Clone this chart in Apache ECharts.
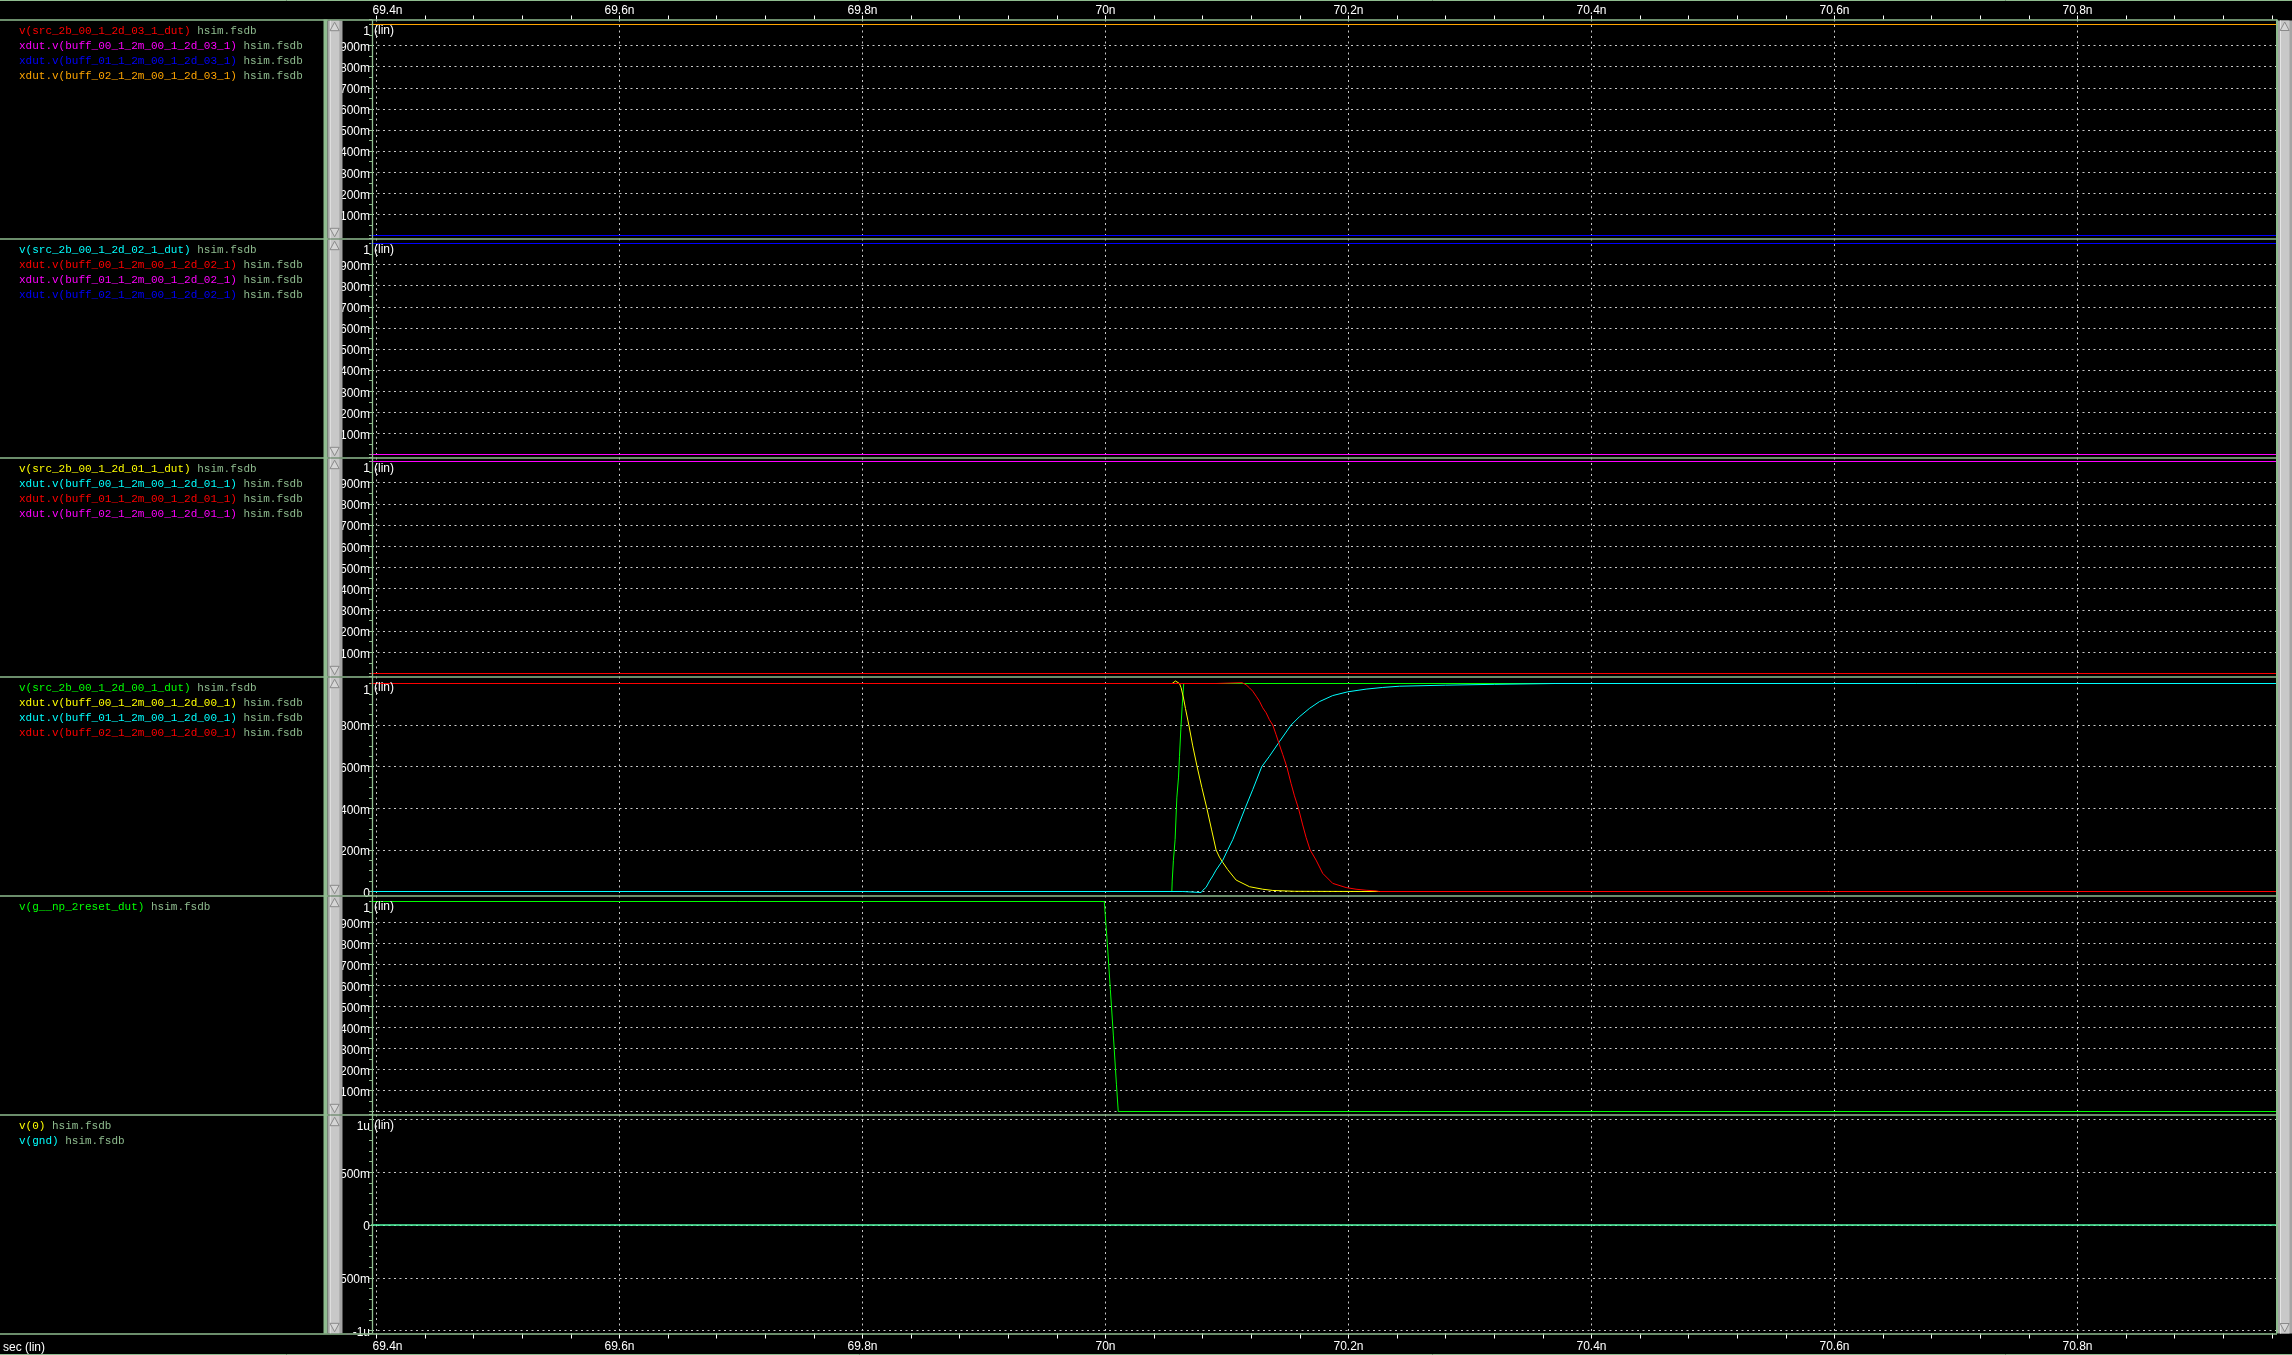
<!DOCTYPE html>
<html><head><meta charset="utf-8">
<script src="https://cdn.jsdelivr.net/npm/echarts@6/dist/echarts.min.js"></script>
<style>html,body{margin:0;padding:0;background:#000;overflow:hidden}#c{width:2292px;height:1355px}</style>
</head><body><div id="c"></div><script>
// ---------------- DATA ----------------
const timeSpan = [69.39, 70.97]; // ns, whole simulated window (flat signals)
const xTickValues = [69.40,69.44,69.48,69.52,69.56,69.60,69.64,69.68,69.72,69.76,69.80,69.84,69.88,69.92,69.96,70.00,70.04,70.08,70.12,70.16,70.20,70.24,70.28,70.32,70.36,70.40,70.44,70.48,70.52,70.56,70.60,70.64,70.68,70.72,70.76,70.80,70.84,70.88,70.92,70.96];
const xLabelValues = [69.4, 69.6, 69.8, 70.0, 70.2, 70.4, 70.6, 70.8];
const p6TickLabels = ['-1u', '-500m', '0', '500m', '1u'];

const p1Names = ['v(src_2b_00_1_2d_03_1_dut)','xdut.v(buff_00_1_2m_00_1_2d_03_1)','xdut.v(buff_01_1_2m_00_1_2d_03_1)','xdut.v(buff_02_1_2m_00_1_2d_03_1)'];
const p1Levels = [0, 1, 0, 1];
const p2Names = ['v(src_2b_00_1_2d_02_1_dut)','xdut.v(buff_00_1_2m_00_1_2d_02_1)','xdut.v(buff_01_1_2m_00_1_2d_02_1)','xdut.v(buff_02_1_2m_00_1_2d_02_1)'];
const p2Levels = [0, 1, 0, 1];
const p3Names = ['v(src_2b_00_1_2d_01_1_dut)','xdut.v(buff_00_1_2m_00_1_2d_01_1)','xdut.v(buff_01_1_2m_00_1_2d_01_1)','xdut.v(buff_02_1_2m_00_1_2d_01_1)'];
const p3Levels = [0, 1, 0, 1];
const p4Names = ['v(src_2b_00_1_2d_00_1_dut)','xdut.v(buff_00_1_2m_00_1_2d_00_1)','xdut.v(buff_01_1_2m_00_1_2d_00_1)','xdut.v(buff_02_1_2m_00_1_2d_00_1)'];
const p4SrcT = [69.39, 70.0546, 70.0549, 70.0559, 70.0573, 70.0587, 70.0601, 70.0609, 70.0620, 70.0631, 70.0644, 70.97];
const p4SrcV = [0, 0, 0.05, 0.15, 0.25, 0.45, 0.55, 0.65, 0.78, 0.89, 1.0, 1.0];
const p4Buf00T = [69.39, 70.0548, 70.0559, 70.0576, 70.0592, 70.0609, 70.0622, 70.0642, 70.0658, 70.0686, 70.0718, 70.0754, 70.0793, 70.0834, 70.0872, 70.0910, 70.0938, 70.0965, 70.1006, 70.1075, 70.1185, 70.1294, 70.1377, 70.1555, 70.2227, 70.97];
const p4Buf00V = [1, 1, 1.008, 1.012, 1.010, 1.0, 0.98, 0.93, 0.88, 0.80, 0.70, 0.60, 0.50, 0.40, 0.30, 0.20, 0.165, 0.14, 0.105, 0.055, 0.023, 0.011, 0.005, 0.001, 0, 0];
const p4Buf01T = [69.39, 70.0636, 70.0639, 70.0787, 70.0801, 70.0828, 70.0856, 70.0883, 70.0910, 70.0965, 70.1006, 70.1048, 70.1102, 70.1149, 70.1212, 70.1286, 70.1349, 70.1431, 70.1527, 70.1596, 70.1678, 70.1761, 70.1870, 70.1994, 70.2145, 70.2282, 70.2419, 70.28, 70.32, 70.37, 70.97];
const p4Buf01V = [0, 0, -0.005, -0.005, 0.006, 0.02, 0.05, 0.075, 0.103, 0.15, 0.20, 0.25, 0.33, 0.40, 0.49, 0.60, 0.65, 0.72, 0.80, 0.84, 0.88, 0.913, 0.942, 0.960, 0.973, 0.981, 0.987, 0.992, 0.996, 1.0, 1.0];
const p4Buf02T = [69.39, 70.0910, 70.0913, 70.1124, 70.1130, 70.1157, 70.1185, 70.1212, 70.1240, 70.1267, 70.1294, 70.1322, 70.1349, 70.1377, 70.1404, 70.1431, 70.1459, 70.1492, 70.1527, 70.1555, 70.1588, 70.1623, 70.1651, 70.1684, 70.1733, 70.1788, 70.1870, 70.1980, 70.2062, 70.2145, 70.2227, 70.2254, 70.97];
const p4Buf02V = [1, 1, 1.004, 1.004, 1.0, 0.994, 0.979, 0.963, 0.939, 0.915, 0.883, 0.859, 0.826, 0.80, 0.754, 0.706, 0.658, 0.60, 0.52, 0.46, 0.40, 0.32, 0.26, 0.20, 0.151, 0.087, 0.039, 0.019, 0.011, 0.006, 0.003, 0, 0];
const p5Names = ['v(g__np_2reset_dut)'];
const p5ResetT = [69.39, 69.999, 70.0015, 70.004, 70.0065, 70.009, 70.0105, 70.97];
const p5ResetV = [1, 1, 0.8, 0.58, 0.36, 0.13, 0, 0];
const p6Names = ['v(0)', 'v(gnd)'];
const p6Levels = [0, 0];

// ---------------- STYLE / LAYOUT ----------------
const RED='#ff0000', MAG='#ff00ff', BLUE='#0000ff', ORANGE='#ffa500', CYAN='#00ffff', YEL='#ffff00', GRN='#00ff00';
const p1Colors=[RED,MAG,BLUE,ORANGE], p2Colors=[CYAN,RED,MAG,BLUE], p3Colors=[YEL,CYAN,RED,MAG], p4Colors=[GRN,YEL,CYAN,RED], p5Colors=[GRN], p6Colors=[YEL,CYAN];
const FRAME='#8fbc8f', GRIDC='#c8c8c8', FILEC='#8fbc8f';
const GL=372, GR=16;                       // plot spans x 372 .. 2276
const PX_PER_NS = 1215;                    // 0.2 ns = 243 px
const X_MIN = 69.4 - 4.5/PX_PER_NS;        // 69.4n sits at x = 376.5
const X_MAX = X_MIN + (2292-GR-GL)/PX_PER_NS;
const SEP0=19.5, PH=219;
const SANS='"Liberation Sans", Arial, sans-serif', MONO='"Liberation Mono", "DejaVu Sans Mono", monospace';
const panelY = [
  {step:0.1, minor:2, top:5, bot:3},
  {step:0.1, minor:2, top:5, bot:3},
  {step:0.1, minor:2, top:4, bot:3},
  {step:0.2, minor:4, top:7, bot:4, zero:true},
  {step:0.1, minor:2, top:6, bot:3},
  {step:5e-7, minor:5, top:5, bot:3, micro:true}
];

const grids=[], xAxes=[], yAxes=[], series=[], graphics=[];
const sep = i => SEP0 + PH*i;

for (let i=0;i<6;i++){
  grids.push({left:GL, right:GR, top:sep(i), height:PH, containLabel:false, outerBoundsMode:'none', show:false});
  xAxes.push({gridIndex:i, type:'value', position: i===5?'top':'bottom', min:X_MIN, max:X_MAX,
    minInterval:0.2, maxInterval:0.2, splitNumber:8,
    axisLine:{show:false}, axisTick:{show:false}, axisLabel:{show:false},
    splitLine:{show:true, showMinLine:false, showMaxLine:false, lineStyle:{color:GRIDC, type:[2,3.5], width:1}}});
  const c = panelY[i];
  const spanPx = PH - c.top - c.bot;
  let lo=0, hi=1;
  if (c.micro){ lo=-1e-6; hi=1e-6; }
  const rng = hi-lo;
  const step = c.step;
  yAxes.push({gridIndex:i, type:'value', position:'left',
    min: lo - c.bot/spanPx*rng, max: hi + c.top/spanPx*rng,
    minInterval:step, maxInterval:step, splitNumber:5,
    axisLine:{show:false},
    axisTick:{show:true, length:3, lineStyle:{color:FRAME, width:1}},
    minorTick:{show:true, splitNumber:c.minor, length:3, lineStyle:{color:FRAME, width:1}},
    splitLine:{show:true, showMinLine:false, showMaxLine:false, lineStyle:{color:GRIDC, type:[2,3.5], width:1}},
    axisLabel:{show:true, showMinLabel:false, showMaxLabel:false, color:'#ffffff', fontFamily:SANS, fontSize:12, margin:2, padding:[4,0,0,0],
      rich:{t:{padding:[10,0,0,0], color:'#ffffff', fontFamily:SANS, fontSize:12}},
      formatter: v => {
        const k = Math.round(v/step);
        if (Math.abs(v - k*step) > step*1e-3) return '';
        if (c.micro) { const s = p6TickLabels[k+2]; if (s===undefined) return ''; return k===2 ? '{t|'+s+'}' : s; }
        if (k===0) return c.zero ? '0' : '';
        const val = k*step;
        if (Math.abs(val-1) < 1e-9) return '{t|1}';
        return Math.round(val*1000) + 'm';
      }}});
}
// top & bottom time axes (ticks + labels only)
const xFmt = v => {
  const s = (Math.round(v*10)/10).toString() + 'n';
  return Math.abs(v-69.4) < 1e-6 ? '{f|' + s + '}' : s;
};
const richFirst = {f:{padding:[0,0,0,22], color:'#ffffff', fontFamily:SANS, fontSize:12}};
xAxes.push({gridIndex:0, type:'value', position:'top', min:X_MIN, max:X_MAX,
  axisLine:{show:false}, splitLine:{show:false},
  axisTick:{show:true, length:4, customValues:xTickValues, lineStyle:{color:'#ffffff', width:1}},
  axisLabel:{show:true, customValues:xLabelValues, color:'#ffffff', fontFamily:SANS, fontSize:12, margin:3, formatter:xFmt, rich:richFirst}});
xAxes.push({gridIndex:5, type:'value', position:'bottom', min:X_MIN, max:X_MAX,
  axisLine:{show:false}, splitLine:{show:false},
  axisTick:{show:true, length:5, customValues:xTickValues, lineStyle:{color:'#ffffff', width:1}},
  axisLabel:{show:true, customValues:xLabelValues, color:'#ffffff', fontFamily:SANS, fontSize:12, margin:7, formatter:xFmt, rich:richFirst}});

function addLine(panel, name, color, data){
  series.push({type:'line', name, xAxisIndex:panel, yAxisIndex:panel, data, showSymbol:false, symbol:'none',
    lineStyle:{color, width:1}, itemStyle:{color}, animation:false, silent:true});
}
const flat = lvl => [[timeSpan[0], lvl],[timeSpan[1], lvl]];
const pairs = (t,v) => t.map((x,k)=>[x, v[k]]);
p1Names.forEach((n,k)=>addLine(0,n,p1Colors[k],flat(p1Levels[k])));
p2Names.forEach((n,k)=>addLine(1,n,p2Colors[k],flat(p2Levels[k])));
p3Names.forEach((n,k)=>addLine(2,n,p3Colors[k],flat(p3Levels[k])));
addLine(3,p4Names[0],p4Colors[0],pairs(p4SrcT,p4SrcV));
addLine(3,p4Names[1],p4Colors[1],pairs(p4Buf00T,p4Buf00V));
addLine(3,p4Names[2],p4Colors[2],pairs(p4Buf01T,p4Buf01V));
addLine(3,p4Names[3],p4Colors[3],pairs(p4Buf02T,p4Buf02V));
addLine(4,p5Names[0],p5Colors[0],pairs(p5ResetT,p5ResetV));
p6Names.forEach((n,k)=>addLine(5,n,p6Colors[k],flat(p6Levels[k])));

// ---------------- DECORATION (viewer frame) ----------------
const Z = 20;
function hline(y, x1, x2, color, w){ graphics.push({type:'line', silent:true, z:Z, shape:{x1, y1:y, x2, y2:y}, style:{stroke:color, lineWidth:w}}); }
function rect(x,y,w,h,fill,z){ graphics.push({type:'rect', silent:true, z:z||Z, shape:{x,y,width:w,height:h}, style:{fill}}); }
function tri(pts){ graphics.push({type:'polygon', silent:true, z:Z+2, shape:{points:pts}, style:{fill:'#d6d6d6', stroke:'#8a8a8a', lineWidth:1}}); }
function txt(x,y,text,fill,font,size,align){ graphics.push({type:'text', silent:true, z:Z+3, x, y, style:{text, fill, fontFamily:font, fontSize:size, textAlign:align||'left', textVerticalAlign:'middle', verticalAlign:'middle'}}); }

hline(0.5, 0, 2292, FRAME, 1);
hline(1354.5, 0, 2292, FRAME, 1);
for (let i=0;i<=6;i++) hline(sep(i)+0.5, 0, 2277, FRAME, 1.3);
// y-axis line
graphics.push({type:'line', silent:true, z:Z, shape:{x1:372.5, y1:SEP0, x2:372.5, y2:sep(6)}, style:{stroke:FRAME, lineWidth:1.3}});
// left frame column + per-panel scrollbars
rect(323.5, SEP0, 4, sep(6)-SEP0, FRAME);
for (let i=0;i<6;i++){
  const yT=sep(i)+1.2, yB=sep(i+1)-0.2;
  rect(327.5, yT, 15, yB-yT, '#a4a4a4', Z+1);
  rect(329.8, yT, 9.6, yB-yT, '#c8c8c8', Z+1);
  rect(329.8, yT, 1, yB-yT, '#e4e4e4', Z+1);
  tri([[334.6, yT+1.5],[330, yT+10],[339.2, yT+10]]);
  tri([[334.6, yB-1.5],[330, yB-10],[339.2, yB-10]]);
  rect(346.5, sep(i+1), 3.5, 1.2, '#808080', Z+1);
}
// right frame + scrollbar
rect(2276, SEP0, 2, sep(6)-SEP0, FRAME);
rect(2278, SEP0+1, 14, sep(6)-SEP0-1, '#a4a4a4', Z+1);
rect(2280, SEP0+1, 9.5, sep(6)-SEP0-1, '#c8c8c8', Z+1);
rect(2280, SEP0+1, 1, sep(6)-SEP0-1, '#e4e4e4', Z+1);
tri([[2284.7, SEP0+2.5],[2280.2, SEP0+11],[2289.2, SEP0+11]]);
tri([[2284.7, sep(6)-1.5],[2280.2, sep(6)-10],[2289.2, sep(6)-10]]);

// legend texts
const panelNames=[p1Names,p2Names,p3Names,p4Names,p5Names,p6Names];
const panelColors=[p1Colors,p2Colors,p3Colors,p4Colors,p5Colors,p6Colors];
const CW = 6.6;
panelNames.forEach((names,i)=>{
  names.forEach((n,k)=>{
    const y = sep(i) + 11.5 + 15*k;
    txt(19, y, n, panelColors[i][k], MONO, 11);
    txt(19 + (n.length+1)*CW, y, 'hsim.fsdb', FILEC, MONO, 11);
  });
  txt(374, sep(i)+11.5, '(lin)', '#ffffff', SANS, 12);
});
txt(3, 1348, 'sec (lin)', '#ffffff', SANS, 12);

const chart = echarts.init(document.getElementById('c'), null, {renderer:'canvas'});
chart.setOption({
  backgroundColor:'#000000',
  animation:false,
  grid:grids, xAxis:xAxes, yAxis:yAxes, series,
  graphic:{elements:graphics}
});
</script></body></html>
